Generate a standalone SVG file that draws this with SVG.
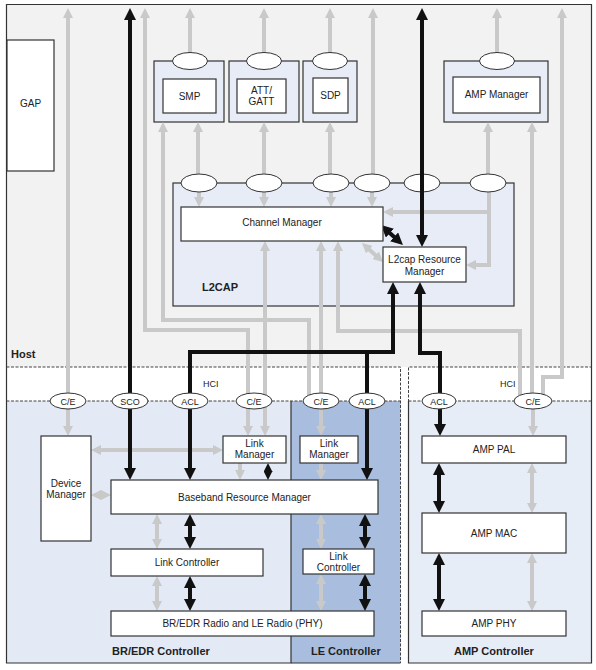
<svg xmlns="http://www.w3.org/2000/svg" width="596" height="670" viewBox="0 0 596 670">
<style>
text{font-family:"Liberation Sans",Arial,sans-serif;fill:#222;font-size:10px;text-anchor:middle}
.lbl{font-weight:bold;font-size:11px;text-anchor:start}
.sm{font-size:9px}
.box{fill:#fff;stroke:#333;stroke-width:1.2}
.cont{fill:#e7ecf6;stroke:#333;stroke-width:1.2}
.ell{fill:#fff;stroke:#333;stroke-width:1}
.gu{fill:none;stroke:#c9c9c9;stroke-width:4;marker-end:url(#ga)}
.gd{fill:none;stroke:#c9c9c9;stroke-width:4;marker-start:url(#ga);marker-end:url(#ga)}
.bu{fill:none;stroke:#111;stroke-width:4;marker-end:url(#ba)}
.bd{fill:none;stroke:#111;stroke-width:4;marker-start:url(#ba);marker-end:url(#ba)}
.bs{fill:none;stroke:#111;stroke-width:3;marker-start:url(#bsm);marker-end:url(#bsm)}
.dash{stroke:#444;stroke-width:1;stroke-dasharray:3 1.5;fill:none}
.solid{stroke:#333;stroke-width:1.2;fill:none}
</style>
<defs>
<marker id="ga" viewBox="0 0 10 10" refX="4" refY="5" markerWidth="10" markerHeight="10" markerUnits="userSpaceOnUse" orient="auto-start-reverse"><path d="M0,0 L10,5 L0,10 z" fill="#c9c9c9"/></marker>
<marker id="ba" viewBox="0 0 12 12" refX="5" refY="6" markerWidth="12" markerHeight="12" markerUnits="userSpaceOnUse" orient="auto-start-reverse"><path d="M0,0 L12,6 L0,12 z" fill="#111"/></marker>
<marker id="bsm" viewBox="0 0 10 10" refX="5" refY="5" markerWidth="9" markerHeight="9" markerUnits="userSpaceOnUse" orient="auto-start-reverse"><path d="M0,0 L10,5 L0,10 z" fill="#111"/></marker>
</defs>
<rect width="596" height="670" fill="#fff"/>
<g id="host">
<path d="M6.5,367 V4.5 H591.5 V367 Z" fill="#f2f2f2" stroke="none"/>
<path d="M6.5,367 V4.5 H591.5 V367" class="solid"/>
<text class="lbl" x="11" y="358">Host</text>
</g>
<g id="hci-left">
<rect x="6.5" y="367" width="394" height="34" fill="#fff"/>
<text class="sm" x="203" y="387" style="text-anchor:start">HCI</text>
</g>
<g id="bredr-controller">
<rect x="6.5" y="401" width="284.5" height="262" fill="#e3eaf6"/>
<text class="lbl" x="112" y="655">BR/EDR Controller</text>
</g>
<g id="le-controller">
<rect x="291" y="401" width="109.5" height="262" fill="#a9bedf"/>
<text class="lbl" x="311" y="655">LE Controller</text>
</g>
<g id="amp-controller">
<rect x="408.5" y="367" width="183" height="34" fill="#fff"/>
<rect x="408.5" y="401" width="183" height="262" fill="#e7edf7"/>
<text class="sm" x="500" y="387" style="text-anchor:start">HCI</text>
<text class="lbl" x="454" y="655">AMP Controller</text>
</g>
<g id="region-borders">
<path d="M6.5,367 V663 H291 V401" class="solid"/>
<path d="M291,663 H400.5" class="solid"/>
<path d="M6.5,367 H400.5 V663" class="dash"/>
<path d="M6.5,401 H400.5" class="dash"/>
<path d="M408.5,663 V367 H591.5" class="dash"/>
<path d="M408.5,401 H591.5" class="dash"/>
<path d="M408.5,401 V663 H591.5 V367" class="solid"/>
</g>
<g id="l2cap">
<rect x="173" y="183" width="341" height="123" class="cont"/>
<text class="lbl" x="202" y="291">L2CAP</text>
</g>
<g id="smp-container"><rect x="154" y="61" width="70" height="61" class="cont"/></g>
<g id="att-container"><rect x="229" y="61" width="70" height="61" class="cont"/></g>
<g id="sdp-container"><rect x="303" y="61" width="54" height="61" class="cont"/></g>
<g id="ampmgr-container"><rect x="444" y="61" width="104" height="61" class="cont"/></g>
<g id="l2cap-port-acl"><ellipse cx="422" cy="183" rx="18" ry="9" class="ell"/></g>
<g id="connectors">
<path class="gu" d="M68,401 V14"/>
<path class="gu" d="M68,401 V430"/>
<path class="gd" d="M248,430 V330 H145 V14"/>
<path class="gu" d="M309,397 V320 H163 V128"/>
<path class="gu" d="M321,401 V247"/>
<path class="gu" d="M321,401 V430"/>
<path class="gu" d="M321,463 V474"/>
<path class="gd" d="M265,430 V247"/>
<path class="gu" d="M520,397 V331 H338 V247"/>
<path class="gu" d="M532,401 V128"/>
<path class="gu" d="M543,397 V377 H562 V14"/>
<path class="gu" d="M533,401 V430"/>
<path class="gu" d="M198,183 V128"/>
<path class="gu" d="M199,183 V201"/>
<path class="gu" d="M264,183 V128"/>
<path class="gu" d="M264,183 V201"/>
<path class="gu" d="M330,183 V128"/>
<path class="gu" d="M331,183 V201"/>
<path class="gu" d="M373,183 V14"/>
<path class="gu" d="M372,183 V201"/>
<path class="gu" d="M488,183 V128"/>
<path class="gu" d="M489,183 V265 H472"/>
<path class="gu" d="M489,212 H389"/>
<path class="gu" d="M190,61 V14"/>
<path class="gu" d="M264,61 V14"/>
<path class="gu" d="M330,61 V14"/>
<path class="gu" d="M497,61 V14"/>
<path class="gd" d="M366.4,247 L378.6,258"/>
<path class="gd" d="M97,450 H217"/>
<path class="gd" d="M97,495 H105"/>
<path class="gu" d="M240,463 V474"/>
<path class="gd" d="M157,520 V543"/>
<path class="gd" d="M157,582 V605"/>
<path class="gd" d="M321,520 V543"/>
<path class="gd" d="M321,580 V605"/>
<path class="gd" d="M532,469 V507"/>
<path class="gd" d="M532,559 V605"/>
<path class="bd" d="M130,15 V473"/>
<path class="bd" d="M422,15 V240"/>
<path class="bd" d="M393,289 V352 H190 V473"/>
<path class="bu" d="M367,352 V473"/>
<path class="bd" d="M420,289 V353 H440 V429"/>
<path class="bd" d="M386.2,229.7 L397.8,240.3"/>
<path class="bs" d="M268,467.5 V475.5"/>
<path class="bd" d="M190,521 V542"/>
<path class="bd" d="M190,583 V604"/>
<path class="bd" d="M365,521 V542"/>
<path class="bd" d="M365,581 V604"/>
<path class="bd" d="M439,470 V506"/>
<path class="bd" d="M439,560 V604"/>
</g>
<g id="gap"><rect x="7" y="40" width="47" height="131" class="box"/><text x="30.5" y="107">GAP</text></g>
<g id="smp"><rect x="163" y="79" width="53" height="34" class="box"/><text x="189.5" y="99.5">SMP</text><ellipse cx="190" cy="61" rx="17.5" ry="8.5" class="ell"/></g>
<g id="att-gatt"><rect x="237" y="79" width="49" height="34" class="box"/><text x="261.5" y="93.5">ATT/</text><text x="261.5" y="104.5">GATT</text><ellipse cx="264" cy="61" rx="17.5" ry="8.5" class="ell"/></g>
<g id="sdp"><rect x="313" y="78" width="35" height="35" class="box"/><text x="330.5" y="99">SDP</text><ellipse cx="330" cy="61" rx="17.5" ry="8.5" class="ell"/></g>
<g id="amp-manager"><rect x="453" y="77" width="87" height="36" class="box"/><text x="496.5" y="98">AMP Manager</text><ellipse cx="497" cy="61" rx="17.5" ry="8.5" class="ell"/></g>
<g id="l2cap-ports">
<ellipse cx="199" cy="183" rx="18" ry="9" class="ell"/>
<ellipse cx="264" cy="183" rx="18" ry="9" class="ell"/>
<ellipse cx="331" cy="183" rx="18" ry="9" class="ell"/>
<ellipse cx="372" cy="183" rx="18" ry="9" class="ell"/>
<ellipse cx="488" cy="183" rx="18" ry="9" class="ell"/>
</g>
<g id="channel-manager"><rect x="181" y="207" width="202" height="34" class="box"/><text x="282" y="225.5">Channel Manager</text></g>
<g id="l2cap-resource-manager"><rect x="383" y="247" width="83" height="35" class="box"/><text x="424.5" y="262.5">L2cap Resource</text><text x="424.5" y="274.5">Manager</text></g>
<g id="hci-ports">
<ellipse cx="68" cy="401" rx="18" ry="8" class="ell"/><text class="sm" x="68" y="404.5">C/E</text>
<ellipse cx="130" cy="401" rx="18" ry="8" class="ell"/><text class="sm" x="130" y="404.5">SCO</text>
<ellipse cx="190" cy="401" rx="18" ry="8" class="ell"/><text class="sm" x="190" y="404.5">ACL</text>
<ellipse cx="254" cy="401" rx="18" ry="8" class="ell"/><text class="sm" x="254" y="404.5">C/E</text>
<ellipse cx="321" cy="401" rx="18" ry="8" class="ell"/><text class="sm" x="321" y="404.5">C/E</text>
<ellipse cx="367" cy="401" rx="18" ry="8" class="ell"/><text class="sm" x="367" y="404.5">ACL</text>
<ellipse cx="439" cy="401" rx="17" ry="8" class="ell"/><text class="sm" x="439" y="404.5">ACL</text>
<ellipse cx="533" cy="401" rx="19" ry="8" class="ell"/><text class="sm" x="533" y="404.5">C/E</text>
</g>
<g id="device-manager"><rect x="41" y="436" width="50" height="105" class="box"/><text x="66" y="486.5">Device</text><text x="66" y="497.5">Manager</text></g>
<g id="bredr-link-manager"><rect x="223" y="436" width="63" height="27" class="box"/><text x="254.5" y="446.5">Link</text><text x="254.5" y="457.5">Manager</text></g>
<g id="le-link-manager"><rect x="300" y="436" width="58" height="27" class="box"/><text x="329" y="446.5">Link</text><text x="329" y="457.5">Manager</text></g>
<g id="baseband-resource-manager"><rect x="111" y="480" width="267" height="34" class="box"/><text x="244.5" y="500.5">Baseband Resource Manager</text></g>
<g id="bredr-link-controller"><rect x="111" y="549" width="152" height="27" class="box"/><text x="187" y="566">Link Controller</text></g>
<g id="le-link-controller"><rect x="303" y="549" width="71" height="25" class="box"/><text x="338.5" y="559.5">Link</text><text x="338.5" y="570.5">Controller</text></g>
<g id="radio"><rect x="111" y="611" width="263" height="25" class="box"/><text x="242.5" y="627">BR/EDR Radio and LE Radio (PHY)</text></g>
<g id="amp-pal"><rect x="422" y="436" width="144" height="27" class="box"/><text x="494" y="452.5">AMP PAL</text></g>
<g id="amp-mac"><rect x="422" y="513" width="144" height="40" class="box"/><text x="494" y="536.5">AMP MAC</text></g>
<g id="amp-phy"><rect x="422" y="611" width="144" height="25" class="box"/><text x="494" y="627">AMP PHY</text></g>
</svg>
